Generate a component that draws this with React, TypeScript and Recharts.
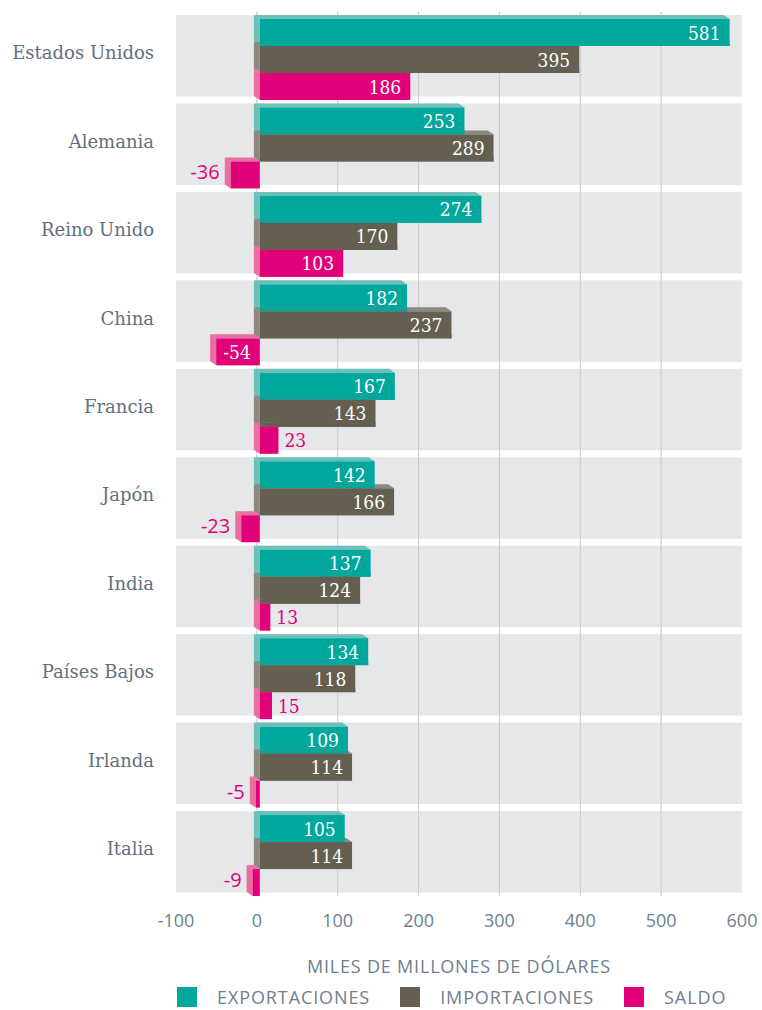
import {
  BarChart,
  Bar,
  XAxis,
  YAxis,
  ReferenceArea,
  ReferenceLine,
  LabelList,
  Legend,
  Label,
} from 'recharts';

const countries = [
  'Estados Unidos',
  'Alemania',
  'Reino Unido',
  'China',
  'Francia',
  'Japón',
  'India',
  'Países Bajos',
  'Irlanda',
  'Italia',
];
const exportaciones = [581, 253, 274, 182, 167, 142, 137, 134, 109, 105];
const importaciones = [395, 289, 170, 237, 143, 166, 124, 118, 114, 114];
const saldo = [186, -36, 103, -54, 23, -23, 13, 15, -5, -9];
const xTicks = [-100, 0, 100, 200, 300, 400, 500, 600];
const gridValues = [0, 100, 200, 300, 400, 500];

const data = countries.map((country, i) => ({
  country,
  exportaciones: exportaciones[i],
  importaciones: importaciones[i],
  saldo: saldo[i],
}));

const series = [
  { key: 'exportaciones', name: 'EXPORTACIONES', front: '#00a79d', side: '#6cc0b9' },
  { key: 'importaciones', name: 'IMPORTACIONES', front: '#645f50', side: '#8d897e' },
  { key: 'saldo', name: 'SALDO', front: '#e2007a', side: '#ea6e9f' },
];

// profundidad del efecto 3D
const DX = 6;
const DY = 4;
const SX = 3;
const SY = 3.5;

const TEXT = '#6e7f8e';
const LABEL = '#5f707f';
const slab = '"DejaVu Serif", serif';
const slabNarrow = '"DejaVu Serif Condensed", "DejaVu Serif", serif';
const sans = '"Open Sans", Roboto, sans-serif';

const make3D = (i: number) => (props: any) => {
  const s = series[i];
  const v = Number(props.payload[s.key]);
  const left = Math.min(props.x, props.x + props.width);
  const w = Math.abs(props.width);
  const h = Math.abs(props.height);
  const fx = left + SX;
  const fy = props.y + SY;
  let repaint = null;
  if (i > 0 && v !== 0) {
    // la barra anterior tapa la cara superior
    const prev = series[i - 1];
    const pv = Number(props.payload[prev.key]);
    const k = w / Math.abs(v);
    const zero = v >= 0 ? left : left + w;
    const a = zero + Math.min(0, pv) * k + SX;
    const b = zero + Math.max(0, pv) * k + SX;
    repaint = <rect x={a} y={fy - DY} width={b - a} height={DY} fill={prev.front} />;
  }
  return (
    <g>
      <polygon
        points={`${fx},${fy} ${fx - DX},${fy - DY} ${fx - DX},${fy + h - DY} ${fx},${fy + h}`}
        fill={s.side}
      />
      <polygon
        points={`${fx - DX},${fy - DY} ${fx + w - DX},${fy - DY} ${fx + w},${fy} ${fx},${fy}`}
        fill={s.side}
      />
      {repaint}
      <rect x={fx} y={fy} width={w} height={h} fill={s.front} />
    </g>
  );
};

const makeLabel = (i: number) => (props: any) => {
  const vb = props.viewBox ?? props;
  const x = Number(vb.x ?? props.x);
  const y = Number(vb.y ?? props.y);
  const width = Number(vb.width ?? props.width);
  const height = Number(vb.height ?? props.height);
  const v = Number(props.value);
  const left = Math.min(x, x + width);
  const w = Math.abs(width);
  const fx = left + SX;
  const cy = y + SY + Math.abs(height) / 2;
  const str = String(v);
  const inside = w > str.length * 10 + 10;
  const color = series[i].front;
  if (inside) {
    return (
      <text x={fx + w - 9} y={cy + 7} textAnchor="end" fill="#fff" fontFamily={slabNarrow} fontSize={19}>
        {str}
      </text>
    );
  }
  if (v >= 0) {
    return (
      <text x={fx + w + 6} y={cy + 7} textAnchor="start" fill={color} fontFamily={slabNarrow} fontSize={19}>
        {str}
      </text>
    );
  }
  return (
    <text x={fx - DX - 5} y={cy + 4.5} textAnchor="end" fill={color} fontFamily={sans} fontSize={20}>
      {str}
    </text>
  );
};

const BandShape = (props: any) => (
  <rect x={props.x} y={props.y + 3.5} width={props.width} height={props.height - 7} fill="#e6e7e8" />
);

const CountryTick = (props: any) => (
  <text x={props.x} y={props.y + 3.5} textAnchor="end" fill={LABEL} fontFamily={slab} fontSize={18}>
    {props.payload.value}
  </text>
);

const ValueTick = (props: any) => (
  <text x={props.x} y={props.y + 30.5} textAnchor="middle" fill={TEXT} fontFamily={sans} fontSize={18}>
    {props.payload.value}
  </text>
);

const AxisTitle = (props: any) => {
  const vb = props.viewBox;
  return (
    <text
      x={vb.x + vb.width / 2}
      y={vb.y + 77}
      textAnchor="middle"
      fill={TEXT}
      fontFamily={sans}
      fontSize={18}
      letterSpacing={0.8}
    >
      MILES DE MILLONES DE DÓLARES
    </text>
  );
};

const renderLegend = () => (
  <div
    style={{
      display: 'flex',
      alignItems: 'flex-start',
      height: 34,
      boxSizing: 'border-box',
      paddingTop: 11,
      paddingLeft: 177,
      fontFamily: sans,
      fontSize: 18,
      color: TEXT,
      letterSpacing: 0.9,
    }}
  >
    {series.map((s) => (
      <div key={s.key} style={{ display: 'flex', alignItems: 'flex-start', marginRight: 30 }}>
        <span style={{ display: 'inline-block', width: 20, height: 20, background: s.front, marginRight: 20 }} />
        <span style={{ lineHeight: '14px', marginTop: 3 }}>{s.name}</span>
      </div>
    ))}
  </div>
);

export default function App() {
  return (
    <div style={{ position: 'absolute', left: 0, top: 0, width: 762, height: 1010 }}>
      <BarChart
        width={762}
        height={1010}
        data={data}
        layout="vertical"
        margin={{ top: 11.5, right: 20, bottom: 0, left: 0 }}
        barGap={0}
      >
        {countries.map((c) => (
          <ReferenceArea
            key={c}
            y1={c}
            y2={c}
            x1={-100}
            x2={600}
            shape={BandShape}
            ifOverflow="visible"
            zIndex={-150}
          />
        ))}
        {gridValues.map((v) => (
          <ReferenceLine key={v} x={v} stroke="#c8c9cb" strokeWidth={1} zIndex={-120} />
        ))}
        <XAxis
          type="number"
          domain={[-100, 600]}
          ticks={xTicks}
          allowDataOverflow
          axisLine={false}
          tickLine={false}
          tickSize={0}
          tickMargin={0}
          tick={ValueTick}
          height={80}
        >
          <Label content={AxisTitle} />
        </XAxis>
        <YAxis
          type="category"
          dataKey="country"
          width={176}
          axisLine={false}
          tickLine={false}
          tickSize={0}
          tickMargin={22}
          interval={0}
          tick={CountryTick}
        />
        <Legend verticalAlign="bottom" content={renderLegend} wrapperStyle={{ left: 0, width: 762 }} />
        {series.map((s, i) => (
          <Bar key={s.key} dataKey={s.key} name={s.name} barSize={27} shape={make3D(i)} isAnimationActive={false}>
            <LabelList dataKey={s.key} content={makeLabel(i)} />
          </Bar>
        ))}
      </BarChart>
    </div>
  );
}
